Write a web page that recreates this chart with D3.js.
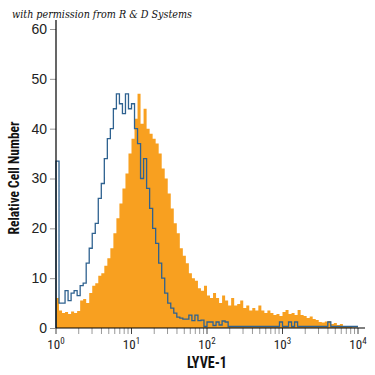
<!DOCTYPE html>
<html>
<head>
<meta charset="utf-8">
<script src="https://cdn.jsdelivr.net/npm/d3@7"></script>
<style>
  body { margin: 0; background: #fff; }
  svg { display: block; font-family: "Liberation Sans Narrow", "Roboto Condensed", "Liberation Sans", sans-serif; }
</style>
</head>
<body>
<svg></svg>
<script>
(function () {
    'use strict';

    // histogram channels: 25 bins per decade, 10^0 .. 10^4
    const binsPerDecade = 25;

    // LYVE-1 stained cells (filled orange)
    const stainedCounts = [
        6, 3.5, 3, 3.2, 2.8, 3.3, 3, 3.4, 5.5, 5.8,
        5, 7, 8.5, 9, 10.5, 11, 12.5, 14, 16, 19,
        22, 25, 28, 31, 35, 38, 42, 47, 41, 44,
        40, 39, 38, 37, 35, 32, 30, 27, 24, 21,
        19, 16, 14.5, 13, 11, 10, 9.5, 8, 7.5, 8.5,
        6.5, 6, 7, 6, 5, 6.5, 5.5, 4.5, 6, 4.5,
        4.8, 5.5, 4, 4.5, 3.5, 4, 3.5, 4.5, 3.5, 3,
        3.5, 3, 2.6, 2.8, 2.4, 3.2, 3.6, 2.8, 3, 2.6,
        3.6, 2.6, 2.4, 2, 2.3, 1.8, 1.6, 1.2, 1.1, 1.3,
        1.4, 0.8, 1, 0.6, 0.8, 0.3, 0.2, 0.2, 0.1, 0.1
    ];

    // isotype control (blue outline)
    const isotypeCounts = [
        33.5, 5, 5, 7.5, 5.5, 7, 7.5, 6.5, 8.5, 9,
        13, 16, 19, 21, 26, 29, 34, 38, 40, 44,
        47, 45, 43, 47, 44, 45, 40, 37, 30, 34,
        28, 24, 20, 17, 13, 10, 7, 5, 4, 3,
        2.2, 2, 1.8, 1.8, 2.6, 1.5, 2.6, 1.5, 1.6, 0.3,
        1.2, 1.2, 0.5, 1.2, 0.6, 1.4, 1.2, 0.3, 0.3, 0.3,
        0.3, 0.3, 0.3, 0.3, 0.3, 0.3, 0.3, 0.3, 0.3, 0.3,
        0.3, 0.3, 0.3, 0.3, 1.2, 0.3, 0.3, 1.2, 0.3, 1.2,
        0.3, 0.3, 0.3, 0.3, 0.3, 0.3, 0.3, 0.3, 0.3, 0.3,
        1.2, 0.3, 0.3, 0.3, 0.3, 0.3, 0.3, 0.3, 0.3, 0.3
    ];

    const yTicks = [0, 10, 20, 30, 40, 50, 60];
    const xTicks = [1, 10, 100, 1000, 10000];
    const xTickExponents = ['0', '1', '2', '3', '4'];

    const width = 375;
    const height = 375;

    const x = d3.scaleLog()
        .domain([1, 10000])
        .range([56, 358]);

    const y = d3.scaleLinear()
        .domain([0, 60])
        .range([328, 29]);

    const toPoints = counts => counts
        .map((c, i) => [Math.pow(10, i / binsPerDecade), c])
        .concat([[Math.pow(10, counts.length / binsPerDecade), counts[counts.length - 1]]]);

    const svg = d3.select('svg')
        .attr('width', width)
        .attr('height', height)
        .attr('viewBox', [0, 0, width, height]);

    // credit line
    svg.append('text')
        .attr('x', 12)
        .attr('y', 18)
        .attr('font-family', '"DejaVu Serif", "Liberation Serif", serif')
        .attr('font-style', 'italic')
        .attr('font-size', 11)
        .attr('textLength', 180)
        .attr('lengthAdjust', 'spacingAndGlyphs')
        .attr('fill', '#111')
        .text('with permission from R & D Systems');

    // histograms
    const area = d3.area()
        .x(d => x(d[0]))
        .y0(y(0))
        .y1(d => y(d[1]))
        .curve(d3.curveStepAfter);

    svg.append('path')
        .attr('d', area(toPoints(stainedCounts)))
        .attr('fill', '#f8a020');

    const line = d3.line()
        .x(d => x(d[0]))
        .y(d => y(d[1]))
        .curve(d3.curveStepAfter);

    svg.append('path')
        .attr('d', line([[1, 0]].concat(toPoints(isotypeCounts))))
        .attr('fill', 'none')
        .attr('stroke', '#2f6290')
        .attr('stroke-width', 1.3);

    // y axis
    const yAxis = svg.append('g')
        .attr('transform', `translate(${x(1)},0)`)
        .call(d3.axisLeft(y).tickValues(yTicks).tickSize(6).tickPadding(3));
    yAxis.select('.domain').remove();
    yAxis.selectAll('.tick line').attr('stroke', '#999');
    yAxis.selectAll('.tick text')
        .attr('font-size', 14)
        .attr('fill', '#222')
        .attr('font-family', null);
    yAxis.append('line')
        .attr('y1', y(0))
        .attr('y2', 20)
        .attr('stroke', '#000')
        .attr('stroke-width', 1.2);

    // x axis
    const xAxis = svg.append('g')
        .attr('transform', `translate(0,${y(0)})`);

    const minor = [];
    xTicks.slice(0, -1).forEach(d => {
        for (let k = 2; k <= 9; k++) minor.push(d * k);
    });

    xAxis.selectAll('.minor')
        .data(minor)
        .join('line')
        .attr('x1', d => x(d))
        .attr('x2', d => x(d))
        .attr('y2', 6)
        .attr('stroke', '#999');

    xAxis.selectAll('.major')
        .data(xTicks)
        .join('line')
        .attr('x1', d => x(d))
        .attr('x2', d => x(d))
        .attr('y2', 6)
        .attr('stroke', '#444');

    xAxis.append('line')
        .attr('x1', x(1))
        .attr('x2', 365)
        .attr('stroke', '#000')
        .attr('stroke-width', 1.2);

    const labels = xAxis.selectAll('.label')
        .data(xTicks)
        .join('text')
        .attr('x', d => x(d))
        .attr('y', 21)
        .attr('text-anchor', 'middle')
        .attr('font-size', 13)
        .attr('fill', '#222');
    labels.append('tspan').text('10');
    labels.append('tspan')
        .attr('dy', -5)
        .attr('font-size', 9)
        .text((d, i) => xTickExponents[i]);

    // axis titles
    svg.append('text')
        .attr('x', 207)
        .attr('y', 368)
        .attr('text-anchor', 'middle')
        .attr('font-size', 17)
        .attr('font-weight', 'bold')
        .attr('textLength', 40)
        .attr('lengthAdjust', 'spacingAndGlyphs')
        .attr('fill', '#111')
        .text('LYVE-1');

    svg.append('text')
        .attr('transform', 'translate(19,178) rotate(-90)')
        .attr('text-anchor', 'middle')
        .attr('font-size', 15)
        .attr('font-weight', 'bold')
        .attr('textLength', 113)
        .attr('lengthAdjust', 'spacingAndGlyphs')
        .attr('fill', '#111')
        .text('Relative Cell Number');
})();
</script>
</body>
</html>
